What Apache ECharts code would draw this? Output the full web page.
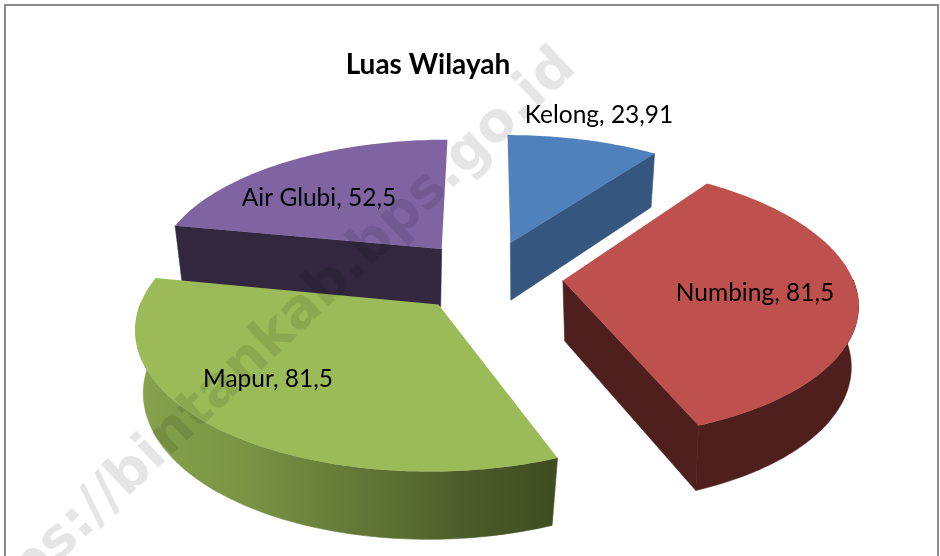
<!DOCTYPE html>
<html>
<head>
<meta charset="utf-8">
<style>html,body{margin:0;padding:0;background:#fff}#c{width:940px;height:556px}</style>
<script src="https://cdn.jsdelivr.net/npm/echarts@6/dist/echarts.min.js"></script>
</head>
<body>
<div id="c"></div>
<script>
// Data
var categories = ['Kelong', 'Numbing', 'Mapur', 'Air Glubi'];
var values = [23.91, 81.5, 81.5, 52.5];
var chartTitle = 'Luas Wilayah';
var watermark = 'https://bintankab.bps.go.id';

// Styles
var topColors = ['#4f81bd', '#be504d', '#9bbb59', '#8064a2'];
var wallColors = ['#35567f', '#4f1f1e', null, '#32273f'];
var labelCenters = [[599, 115], [755, 293], [268, 379], [319, 198]];
var FONT = 'Lato, "Open Sans", sans-serif';

// 3D projection settings
var CX = 488, CY = 276, RX = 289, RY = 133, H = 60, K = 0.148, EXPLODE_X = 0.26, EXPLODE_Y = 0.27, BOTTOM = 0.97;

var total = values.reduce(function (a, b) { return a + b; }, 0);
function project(x, y, depth) {
  var s = 1 / (1 + K * y);
  return [CX + RX * x * s, CY - RY * y * s + H * depth * s];
}
function sliceGeometry(i) {
  var before = 0;
  for (var j = 0; j < i; j++) before += values[j];
  var a0 = before / total * Math.PI * 2, a1 = (before + values[i]) / total * Math.PI * 2;
  var mid = (a0 + a1) / 2;
  var ox = EXPLODE_X * Math.sin(mid), oy = EXPLODE_Y * Math.cos(mid);
  var gx = ox + 0.2 * Math.sin(mid), gy = oy + 0.2 * Math.cos(mid);
  function top(r, a) { return project(ox + r * Math.sin(a), oy + r * Math.cos(a), 0); }
  function bottom(r, a) {
    var x = ox + r * Math.sin(a), y = oy + r * Math.cos(a);
    return project(gx + (x - gx) * BOTTOM, gy + (y - gy) * BOTTOM, 1);
  }
  return { a0: a0, a1: a1, top: top, bottom: bottom, cy: gy };
}
function arcSamples(a0, a1) {
  var n = Math.max(2, Math.ceil((a1 - a0) / 0.02)), out = [];
  for (var i = 0; i <= n; i++) out.push(a0 + (a1 - a0) * i / n);
  return out;
}
function wallFill(i) {
  if (wallColors[i]) return wallColors[i];
  return { type: 'linear', x: 140, y: 0, x2: 556, y2: 0, global: true, colorStops: [
    { offset: 0, color: '#86a24c' }, { offset: 0.25, color: '#7a9444' },
    { offset: 0.6, color: '#5c7033' }, { offset: 0.8, color: '#4a5a28' }, { offset: 1, color: '#3f4d21' }
  ] };
}
var order = categories.map(function (_, i) { return i; }).sort(function (a, b) {
  return sliceGeometry(b).cy - sliceGeometry(a).cy;
});

function renderItem(params, api) {
  var i = params.dataIndex;
  var g = sliceGeometry(i), z = order.indexOf(i) * 10, children = [];
  var angles = arcSamples(g.a0, g.a1);
  var rimTop = angles.map(function (a) { return g.top(1, a); });
  var fill = wallFill(i);
  // radial walls that face the viewer
  [[g.a0, g.a0 - Math.PI / 2], [g.a1, g.a1 + Math.PI / 2]].forEach(function (w) {
    if (Math.cos(w[1]) < -0.05) {
      children.push({ type: 'polygon', z2: z, shape: { points: [g.top(0, w[0]), g.top(1, w[0]), g.bottom(1, w[0]), g.bottom(0, w[0])] },
        style: { fill: fill, stroke: fill, lineWidth: 0.6 } });
    }
  });
  // outer wall, only where the rim faces the viewer
  var front = angles.filter(function (a) { return Math.cos(a) < 0.02; });
  if (front.length > 1) {
    var pts = front.map(function (a) { return g.top(1, a); })
      .concat(front.slice().reverse().map(function (a) { return g.bottom(1, a); }));
    children.push({ type: 'polygon', z2: z + 1, shape: { points: pts }, style: { fill: fill, stroke: fill, lineWidth: 0.6 } });
  }
  // top face
  children.push({ type: 'polygon', z2: z + 2, shape: { points: [g.top(0, g.a0)].concat(rimTop) }, style: { fill: topColors[i] } });
  // label
  children.push({ type: 'text', z2: 100, style: {
    x: labelCenters[i][0], y: labelCenters[i][1],
    text: categories[i] + ', ' + String(api.value(0)).replace('.', ','),
    fill: '#000', font: '400 24.5px ' + FONT, align: 'center', verticalAlign: 'middle'
  } });
  return { type: 'group', children: children };
}

var chart = echarts.init(document.getElementById('c'), null, { renderer: 'canvas' });
chart.setOption({
  animation: false,
  backgroundColor: '#fff',
  title: {
    text: chartTitle, left: 423, top: 60, textAlign: 'center', textVerticalAlign: 'middle',
    textStyle: { color: '#000', fontFamily: FONT, fontWeight: 'bold', fontSize: 28 }
  },
  graphic: [
    { type: 'rect', z: -1, silent: true, shape: { x: 5, y: 5, width: 933, height: 600 },
      style: { fill: 'none', stroke: '#8c8c8c', lineWidth: 2 } },
    { type: 'text', z: 100, silent: true, x: 568, y: 59, rotation: 43.5 * Math.PI / 180, originX: 0, originY: 0,
      style: { text: watermark, fill: 'rgba(0,0,0,0.1)', font: 'bold 55px "DejaVu Sans", sans-serif',
        align: 'right', verticalAlign: 'middle' } }
  ],
  series: [{
    type: 'custom',
    coordinateSystem: 'none',
    renderItem: renderItem,
    data: values.map(function (v, i) { return { name: categories[i], value: [v] }; })
  }]
});
</script>
</body>
</html>
